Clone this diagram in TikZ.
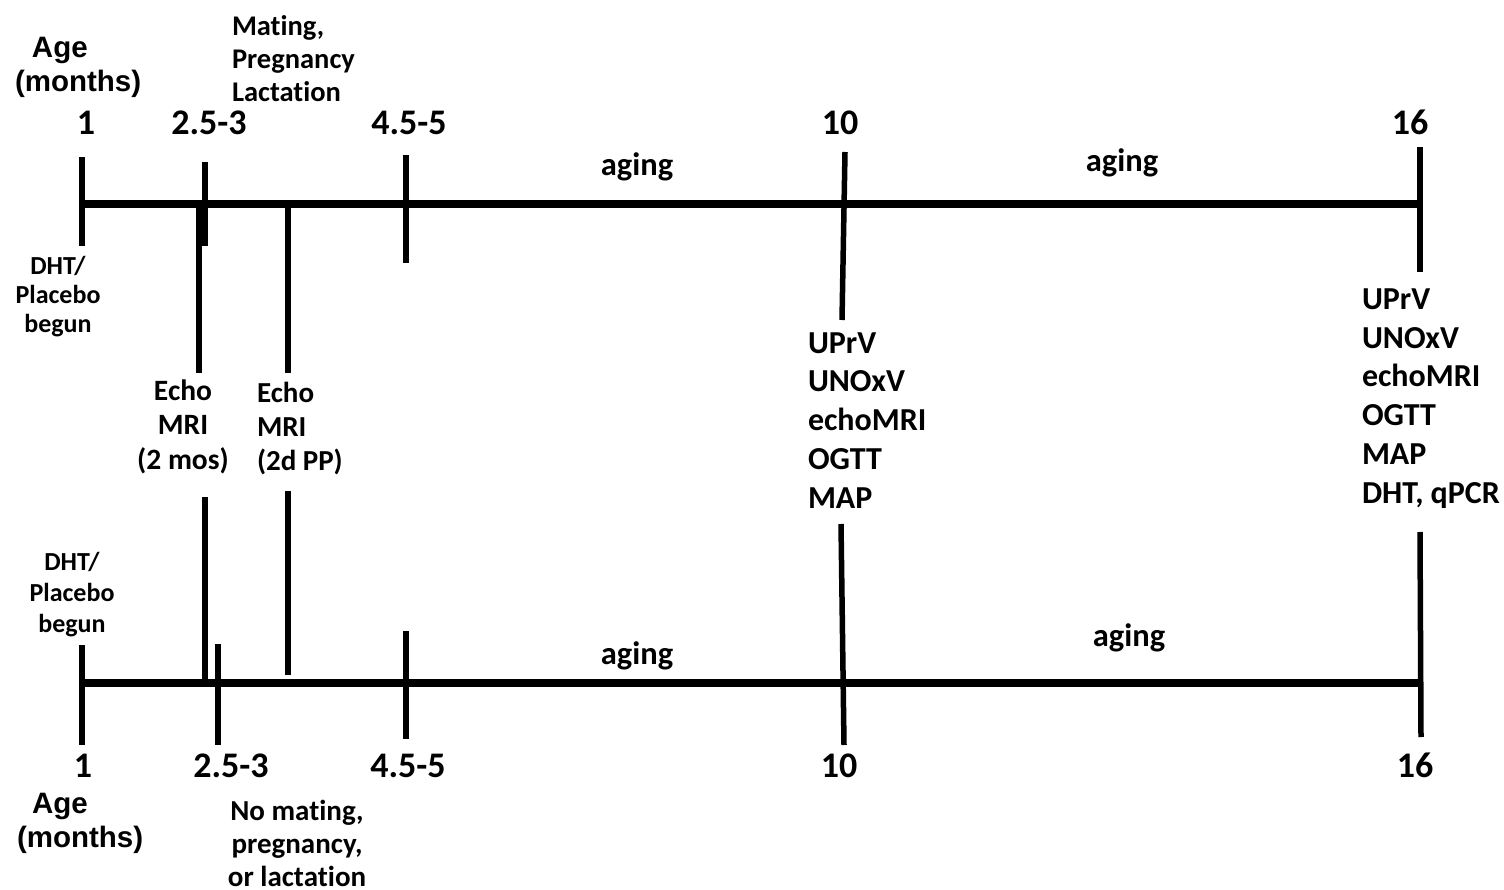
\documentclass[tikz,border=0pt]{standalone}
\usepackage{fontspec}
\setmainfont{Carlito}[Ligatures={NoCommon,NoContextual}]
\newfontfamily\arl{Liberation Sans}
\begin{document}
\begin{tikzpicture}[x=1pt,y=-1pt,
  every node/.style={inner sep=0pt,outer sep=0pt,font=\bfseries},
  mainline/.style={line width=8pt},
  tick/.style={line width=5.5pt},
  num/.style={anchor=base,font=\fontsize{36}{40}\selectfont\bfseries},
  age/.style={anchor=base west,align=left,font=\fontsize{29.5}{34}\selectfont\bfseries\arl},
  lbl/.style={font=\fontsize{26}{30}\selectfont\bfseries},
  meas/.style={anchor=base west,align=left,font=\fontsize{32}{38.7}\selectfont\bfseries},
  agingtxt/.style={anchor=base,font=\fontsize{32.5}{38}\selectfont\bfseries}]
\useasboundingbox (0,0) rectangle (1504,890);
% ---------- top timeline ----------
\coordinate (tA) at (82,204);
\coordinate (tB) at (1420,204);
\draw[mainline] (tA) -- (tB);
\coordinate (t1a) at (82,157);   \coordinate (t1b) at (82,246);
\coordinate (t2a) at (205,162);  \coordinate (t2b) at (205,246);
\coordinate (e1a) at (199,204);  \coordinate (e1b) at (199,373);
\coordinate (e2a) at (288,204);  \coordinate (e2b) at (288,373);
\coordinate (t3a) at (406,155);  \coordinate (t3b) at (406,263);
\coordinate (t4a) at (845,152);  \coordinate (t4b) at (842,320);
\coordinate (t5a) at (1420,147); \coordinate (t5b) at (1420,272);
\foreach \p in {t1,t2,e1,e2,t3,t4,t5} \draw[tick] (\p a) -- (\p b);
% ---------- connecting lines to bottom timeline ----------
\coordinate (f1a) at (205,497); \coordinate (f1b) at (205,683);
\coordinate (f2a) at (288,491); \coordinate (f2b) at (288,675);
\draw[tick] (f1a) -- (f1b);
\draw[tick] (f2a) -- (f2b);
% ---------- bottom timeline ----------
\coordinate (bA) at (82,683);
\coordinate (bB) at (1420,683);
\draw[mainline] (bA) -- (bB);
\coordinate (b1a) at (82,645);   \coordinate (b1b) at (82,745);
\coordinate (b2a) at (218,644);  \coordinate (b2b) at (218,745);
\coordinate (b3a) at (406,631);  \coordinate (b3b) at (406,739);
\coordinate (b4a) at (841,524);  \coordinate (b4b) at (844,745);
\coordinate (b5a) at (1420,532); \coordinate (b5b) at (1421,737);
\foreach \p in {b1,b2,b3,b4,b5} \draw[tick] (\p a) -- (\p b);
% ---------- top labels (base anchor = baseline of last line) ----------
\node[age] (ageT) at (15,92) {\hspace*{17pt}Age\\(months)};
\node[num] (n1T) at (86,135) {1};
\node[num] (n2T) at (209,135) {2.5-3};
\node[num] (n3T) at (409,135) {4.5-5};
\node[num] (n4T) at (840,135) {10};
\node[num] (n5T) at (1410,135) {16};
\node[lbl,anchor=base west,align=left,font=\fontsize{28.5}{33.3}\selectfont\bfseries] (mat) at (232,102) {Mating,\\Pregnancy\\Lactation};
\node[agingtxt] (ag1T) at (637,176) {aging};
\node[agingtxt] (ag2T) at (1122,172) {aging};
\node[lbl,anchor=base,align=center,font=\fontsize{26}{29}\selectfont\bfseries] (dhtT) at (58,333) {DHT/\\Placebo\\begun};
\node[lbl,anchor=base,align=center,font=\fontsize{29.5}{34.5}\selectfont\bfseries] (echo1) at (183,469) {Echo\\MRI\\(2 mos)};
\node[lbl,anchor=base west,align=left,font=\fontsize{29}{34}\selectfont\bfseries] (echo2) at (257,470) {Echo\\MRI\\(2d PP)};
\node[meas] (m10) at (808,508) {UPrV\\UNOxV\\echoMRI\\OGTT\\MAP};
\node[meas] (m16) at (1362,503) {UPrV\\UNOxV\\echoMRI\\OGTT\\MAP\\DHT, qPCR};
% ---------- bottom labels ----------
\node[lbl,anchor=base,align=center,font=\fontsize{26}{31}\selectfont\bfseries] (dhtB) at (72,632) {DHT/\\Placebo\\begun};
\node[agingtxt] (ag1B) at (637,664) {aging};
\node[agingtxt] (ag2B) at (1129,646) {aging};
\node[num] (n1B) at (83,777) {1};
\node[num] (n2B) at (231,777) {2.5-3};
\node[num] (n3B) at (408,777) {4.5-5};
\node[num] (n4B) at (839,777) {10};
\node[num] (n5B) at (1415,777) {16};
\node[age] (ageB) at (17,847) {\hspace*{15pt}Age\\(months)};
\node[lbl,anchor=base,align=center,font=\fontsize{29}{33}\selectfont\bfseries] (nomat) at (297,886) {No mating,\\pregnancy,\\or lactation};
\end{tikzpicture}
\end{document}
